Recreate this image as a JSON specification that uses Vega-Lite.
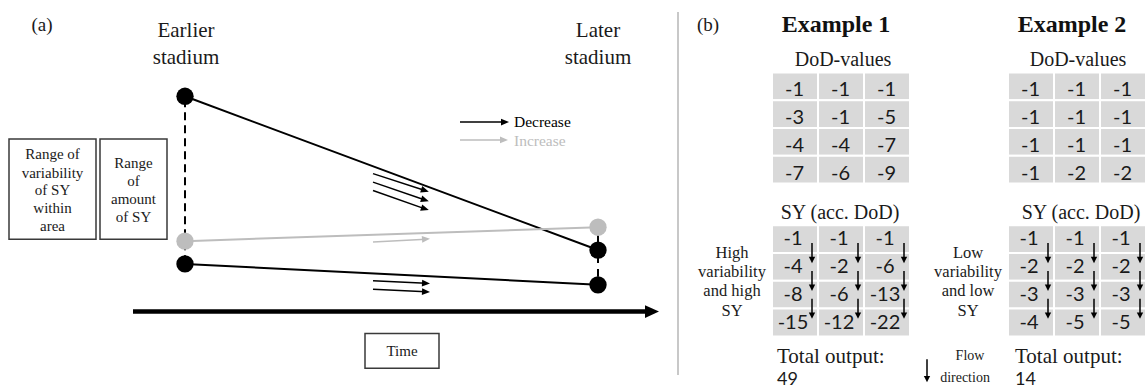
{
  "$schema": "https://vega.github.io/schema/vega-lite/v6.json",
  "width": 1147,
  "height": 389,
  "autosize": {"type": "fit", "contains": "padding"},
  "padding": 0,
  "background": "white",
  "config": {"view": {"stroke": null}},
  "encoding": {
    "x": {"field": "x", "type": "quantitative", "scale": {"domain": [0, 1147], "nice": false, "zero": false}, "axis": null},
    "y": {"field": "y", "type": "quantitative", "scale": {"domain": [0, 389], "nice": false, "zero": false, "reverse": true}, "axis": null}
  },
  "layer": [
    {
      "data": {"values": [{"x": 678, "y": 12, "x2": 678, "y2": 378}]},
      "mark": {"type": "rule", "color": "#c8c8c8", "strokeWidth": 2},
      "encoding": {"x2": {"field": "x2"}, "y2": {"field": "y2"}}
    },
    {
      "data": {"values": [
        {"x": 9, "x2": 96, "y": 140, "y2": 241},
        {"x": 100, "x2": 167, "y": 140, "y2": 241},
        {"x": 365, "x2": 439, "y": 336, "y2": 371}
      ]},
      "mark": {"type": "rect", "fill": null, "stroke": "#3a3a3a", "strokeWidth": 1.5},
      "encoding": {"x2": {"field": "x2"}, "y2": {"field": "y2"}}
    },
    {
      "data": {"values": [{"x": 185, "y": 100, "x2": 185, "y2": 266}]},
      "mark": {"type": "rule", "color": "#000000", "strokeWidth": 2, "strokeDash": [8, 5]},
      "encoding": {"x2": {"field": "x2"}, "y2": {"field": "y2"}}
    },
    {
      "data": {"values": [
        {"x": 598, "y": 236, "x2": 598, "y2": 245},
        {"x": 598, "y": 259, "x2": 598, "y2": 265},
        {"x": 598, "y": 271, "x2": 598, "y2": 279}
      ]},
      "mark": {"type": "rule", "color": "#000000", "strokeWidth": 2},
      "encoding": {"x2": {"field": "x2"}, "y2": {"field": "y2"}}
    },
    {
      "data": {"values": [
        {"x": 185, "y": 97, "x2": 598, "y2": 252, "trend": "decrease"},
        {"x": 185, "y": 243, "x2": 598, "y2": 229, "trend": "increase"},
        {"x": 185, "y": 266, "x2": 598, "y2": 287, "trend": "decrease"}
      ]},
      "mark": {"type": "rule", "strokeWidth": 2},
      "encoding": {
        "x2": {"field": "x2"}, "y2": {"field": "y2"},
        "color": {"field": "trend", "type": "nominal", "scale": {"domain": ["decrease", "increase"], "range": ["#000000", "#bdbdbd"]}, "legend": null}
      }
    },
    {
      "data": {"values": [
        {"x": 185, "y": 97, "trend": "decrease"},
        {"x": 185, "y": 243, "trend": "increase"},
        {"x": 185, "y": 266, "trend": "decrease"},
        {"x": 598, "y": 229, "trend": "increase"},
        {"x": 598, "y": 252, "trend": "decrease"},
        {"x": 598, "y": 287, "trend": "decrease"}
      ]},
      "mark": {"type": "point", "filled": true, "opacity": 1, "size": 300, "shape": "circle"},
      "encoding": {
        "color": {"field": "trend", "type": "nominal", "scale": {"domain": ["decrease", "increase"], "range": ["#000000", "#bdbdbd"]}, "legend": null}
      }
    },
    {
      "data": {"values": [{"x": 133, "y": 314, "x2": 652, "y2": 314}]},
      "layer": [
        {"mark": {"type": "rule", "color": "#000000", "strokeWidth": 4.5}, "encoding": {"x2": {"field": "x2"}, "y2": {"field": "y2"}}},
        {"mark": {"type": "point", "filled": true, "opacity": 1, "color": "#000000", "size": 196, "shape": "M -1 -0.9 L 1 0 L -1 0.9 Z"},
         "encoding": {
           "x": {"field": "x2", "type": "quantitative", "scale": {"domain": [0, 1147], "nice": false, "zero": false}, "axis": null},
           "y": {"field": "y2", "type": "quantitative", "scale": {"domain": [0, 389], "nice": false, "zero": false, "reverse": true}, "axis": null}
         }}
      ]
    },
    {
      "data": {"values": [
        {"x": 373, "y": 175, "x2": 425, "y2": 192},
        {"x": 373, "y": 183.5, "x2": 425, "y2": 201.5},
        {"x": 373, "y": 192, "x2": 425, "y2": 210.5}
      ]},
      "layer": [
        {"mark": {"type": "rule", "color": "#000000", "strokeWidth": 1.5}, "encoding": {"x2": {"field": "x2"}, "y2": {"field": "y2"}}},
        {"mark": {"type": "point", "filled": true, "opacity": 1, "color": "#000000", "size": 64, "angle": 18, "shape": "M -1 -0.85 L 1 0 L -1 0.85 Z"},
         "encoding": {
           "x": {"field": "x2", "type": "quantitative", "scale": {"domain": [0, 1147], "nice": false, "zero": false}, "axis": null},
           "y": {"field": "y2", "type": "quantitative", "scale": {"domain": [0, 389], "nice": false, "zero": false, "reverse": true}, "axis": null}
         }}
      ]
    },
    {
      "data": {"values": [{"x": 373, "y": 244, "x2": 426, "y2": 241}]},
      "layer": [
        {"mark": {"type": "rule", "color": "#bdbdbd", "strokeWidth": 1.5}, "encoding": {"x2": {"field": "x2"}, "y2": {"field": "y2"}}},
        {"mark": {"type": "point", "filled": true, "opacity": 1, "color": "#bdbdbd", "size": 64, "angle": -4, "shape": "M -1 -0.85 L 1 0 L -1 0.85 Z"},
         "encoding": {
           "x": {"field": "x2", "type": "quantitative", "scale": {"domain": [0, 1147], "nice": false, "zero": false}, "axis": null},
           "y": {"field": "y2", "type": "quantitative", "scale": {"domain": [0, 389], "nice": false, "zero": false, "reverse": true}, "axis": null}
         }}
      ]
    },
    {
      "data": {"values": [
        {"x": 373, "y": 283, "x2": 426, "y2": 285.5},
        {"x": 373, "y": 291.5, "x2": 426, "y2": 294}
      ]},
      "layer": [
        {"mark": {"type": "rule", "color": "#000000", "strokeWidth": 1.5}, "encoding": {"x2": {"field": "x2"}, "y2": {"field": "y2"}}},
        {"mark": {"type": "point", "filled": true, "opacity": 1, "color": "#000000", "size": 64, "angle": 3, "shape": "M -1 -0.85 L 1 0 L -1 0.85 Z"},
         "encoding": {
           "x": {"field": "x2", "type": "quantitative", "scale": {"domain": [0, 1147], "nice": false, "zero": false}, "axis": null},
           "y": {"field": "y2", "type": "quantitative", "scale": {"domain": [0, 389], "nice": false, "zero": false, "reverse": true}, "axis": null}
         }}
      ]
    },
    {
      "data": {"values": [
        {"x": 460, "y": 123, "x2": 505, "y2": 123, "trend": "decrease"},
        {"x": 460, "y": 141, "x2": 504, "y2": 141, "trend": "increase"}
      ]},
      "encoding": {
        "color": {"field": "trend", "type": "nominal", "scale": {"domain": ["decrease", "increase"], "range": ["#000000", "#bdbdbd"]}, "legend": null}
      },
      "layer": [
        {"mark": {"type": "rule", "strokeWidth": 1.5}, "encoding": {"x2": {"field": "x2"}, "y2": {"field": "y2"}}},
        {"mark": {"type": "point", "filled": true, "opacity": 1, "size": 64, "shape": "M -1 -0.85 L 1 0 L -1 0.85 Z"},
         "encoding": {
           "x": {"field": "x2", "type": "quantitative", "scale": {"domain": [0, 1147], "nice": false, "zero": false}, "axis": null},
           "y": {"field": "y2", "type": "quantitative", "scale": {"domain": [0, 389], "nice": false, "zero": false, "reverse": true}, "axis": null}
         }}
      ]
    },
    {
      "data": {"values": [
        {"grid": "DoD 1", "v": "-1", "x": 772, "x2": 818, "y": 73, "y2": 101},
        {"grid": "DoD 1", "v": "-1", "x": 818, "x2": 864, "y": 73, "y2": 101},
        {"grid": "DoD 1", "v": "-1", "x": 864, "x2": 910, "y": 73, "y2": 101},
        {"grid": "DoD 1", "v": "-3", "x": 772, "x2": 818, "y": 101, "y2": 129},
        {"grid": "DoD 1", "v": "-1", "x": 818, "x2": 864, "y": 101, "y2": 129},
        {"grid": "DoD 1", "v": "-5", "x": 864, "x2": 910, "y": 101, "y2": 129},
        {"grid": "DoD 1", "v": "-4", "x": 772, "x2": 818, "y": 129, "y2": 157},
        {"grid": "DoD 1", "v": "-4", "x": 818, "x2": 864, "y": 129, "y2": 157},
        {"grid": "DoD 1", "v": "-7", "x": 864, "x2": 910, "y": 129, "y2": 157},
        {"grid": "DoD 1", "v": "-7", "x": 772, "x2": 818, "y": 157, "y2": 185},
        {"grid": "DoD 1", "v": "-6", "x": 818, "x2": 864, "y": 157, "y2": 185},
        {"grid": "DoD 1", "v": "-9", "x": 864, "x2": 910, "y": 157, "y2": 185},
        {"grid": "DoD 2", "v": "-1", "x": 1008, "x2": 1054, "y": 73, "y2": 101},
        {"grid": "DoD 2", "v": "-1", "x": 1054, "x2": 1100, "y": 73, "y2": 101},
        {"grid": "DoD 2", "v": "-1", "x": 1100, "x2": 1146, "y": 73, "y2": 101},
        {"grid": "DoD 2", "v": "-1", "x": 1008, "x2": 1054, "y": 101, "y2": 129},
        {"grid": "DoD 2", "v": "-1", "x": 1054, "x2": 1100, "y": 101, "y2": 129},
        {"grid": "DoD 2", "v": "-1", "x": 1100, "x2": 1146, "y": 101, "y2": 129},
        {"grid": "DoD 2", "v": "-1", "x": 1008, "x2": 1054, "y": 129, "y2": 157},
        {"grid": "DoD 2", "v": "-1", "x": 1054, "x2": 1100, "y": 129, "y2": 157},
        {"grid": "DoD 2", "v": "-1", "x": 1100, "x2": 1146, "y": 129, "y2": 157},
        {"grid": "DoD 2", "v": "-1", "x": 1008, "x2": 1054, "y": 157, "y2": 185},
        {"grid": "DoD 2", "v": "-2", "x": 1054, "x2": 1100, "y": 157, "y2": 185},
        {"grid": "DoD 2", "v": "-2", "x": 1100, "x2": 1146, "y": 157, "y2": 185}
      ]},
      "layer": [
        {"mark": {"type": "rect", "fill": "#d9d9d9", "stroke": "#ffffff", "strokeWidth": 2}, "encoding": {"x2": {"field": "x2"}, "y2": {"field": "y2"}}},
        {"mark": {"type": "text", "font": "Lato", "fontSize": 20, "color": "#1a1a1a", "align": "center", "baseline": "alphabetic", "dx": 22.5, "dy": 24}, "encoding": {"text": {"field": "v"}}}
      ]
    },
    {
      "data": {"values": [
        {"grid": "SY 1", "v": "-1", "x": 772, "x2": 818, "y": 227, "y2": 255},
        {"grid": "SY 1", "v": "-1", "x": 818, "x2": 864, "y": 227, "y2": 255},
        {"grid": "SY 1", "v": "-1", "x": 864, "x2": 910, "y": 227, "y2": 255},
        {"grid": "SY 1", "v": "-4", "x": 772, "x2": 818, "y": 255, "y2": 283},
        {"grid": "SY 1", "v": "-2", "x": 818, "x2": 864, "y": 255, "y2": 283},
        {"grid": "SY 1", "v": "-6", "x": 864, "x2": 910, "y": 255, "y2": 283},
        {"grid": "SY 1", "v": "-8", "x": 772, "x2": 818, "y": 283, "y2": 311},
        {"grid": "SY 1", "v": "-6", "x": 818, "x2": 864, "y": 283, "y2": 311},
        {"grid": "SY 1", "v": "-13", "x": 864, "x2": 910, "y": 283, "y2": 311},
        {"grid": "SY 1", "v": "-15", "x": 772, "x2": 818, "y": 311, "y2": 339},
        {"grid": "SY 1", "v": "-12", "x": 818, "x2": 864, "y": 311, "y2": 339},
        {"grid": "SY 1", "v": "-22", "x": 864, "x2": 910, "y": 311, "y2": 339},
        {"grid": "SY 2", "v": "-1", "x": 1008, "x2": 1054, "y": 227, "y2": 255},
        {"grid": "SY 2", "v": "-1", "x": 1054, "x2": 1100, "y": 227, "y2": 255},
        {"grid": "SY 2", "v": "-1", "x": 1100, "x2": 1146, "y": 227, "y2": 255},
        {"grid": "SY 2", "v": "-2", "x": 1008, "x2": 1054, "y": 255, "y2": 283},
        {"grid": "SY 2", "v": "-2", "x": 1054, "x2": 1100, "y": 255, "y2": 283},
        {"grid": "SY 2", "v": "-2", "x": 1100, "x2": 1146, "y": 255, "y2": 283},
        {"grid": "SY 2", "v": "-3", "x": 1008, "x2": 1054, "y": 283, "y2": 311},
        {"grid": "SY 2", "v": "-3", "x": 1054, "x2": 1100, "y": 283, "y2": 311},
        {"grid": "SY 2", "v": "-3", "x": 1100, "x2": 1146, "y": 283, "y2": 311},
        {"grid": "SY 2", "v": "-4", "x": 1008, "x2": 1054, "y": 311, "y2": 339},
        {"grid": "SY 2", "v": "-5", "x": 1054, "x2": 1100, "y": 311, "y2": 339},
        {"grid": "SY 2", "v": "-5", "x": 1100, "x2": 1146, "y": 311, "y2": 339}
      ]},
      "layer": [
        {"mark": {"type": "rect", "fill": "#d9d9d9", "stroke": "#ffffff", "strokeWidth": 2}, "encoding": {"x2": {"field": "x2"}, "y2": {"field": "y2"}}},
        {"mark": {"type": "text", "font": "Lato", "fontSize": 20, "color": "#1a1a1a", "align": "center", "baseline": "alphabetic", "dx": 21, "dy": 20}, "encoding": {"text": {"field": "v"}}}
      ]
    },
    {
      "data": {"values": [
        {"x": 812, "y": 245, "x2": 812, "y2": 262}, {"x": 812, "y": 273, "x2": 812, "y2": 290}, {"x": 812, "y": 301, "x2": 812, "y2": 318},
        {"x": 858, "y": 245, "x2": 858, "y2": 262}, {"x": 858, "y": 273, "x2": 858, "y2": 290}, {"x": 858, "y": 301, "x2": 858, "y2": 318},
        {"x": 904, "y": 245, "x2": 904, "y2": 262}, {"x": 904, "y": 273, "x2": 904, "y2": 290}, {"x": 904, "y": 301, "x2": 904, "y2": 318},
        {"x": 1048, "y": 245, "x2": 1048, "y2": 262}, {"x": 1048, "y": 273, "x2": 1048, "y2": 290}, {"x": 1048, "y": 301, "x2": 1048, "y2": 318},
        {"x": 1094, "y": 245, "x2": 1094, "y2": 262}, {"x": 1094, "y": 273, "x2": 1094, "y2": 290}, {"x": 1094, "y": 301, "x2": 1094, "y2": 318},
        {"x": 1140, "y": 245, "x2": 1140, "y2": 262}, {"x": 1140, "y": 273, "x2": 1140, "y2": 290}, {"x": 1140, "y": 301, "x2": 1140, "y2": 318},
        {"x": 927, "y": 362, "x2": 927, "y2": 382}
      ]},
      "layer": [
        {"mark": {"type": "rule", "color": "#000000", "strokeWidth": 1.5}, "encoding": {"x2": {"field": "x2"}, "y2": {"field": "y2"}}},
        {"mark": {"type": "point", "filled": true, "opacity": 1, "color": "#000000", "size": 40, "angle": 90, "shape": "M -1 -1 L 1 0 L -1 1 Z"},
         "encoding": {
           "x": {"field": "x2", "type": "quantitative", "scale": {"domain": [0, 1147], "nice": false, "zero": false}, "axis": null},
           "y": {"field": "y2", "type": "quantitative", "scale": {"domain": [0, 389], "nice": false, "zero": false, "reverse": true}, "axis": null}
         }}
      ]
    },
    {
      "data": {"values": [
        {"x": 186, "y": 37, "t": "Earlier"}, {"x": 186, "y": 64, "t": "stadium"},
        {"x": 598, "y": 37, "t": "Later"}, {"x": 598, "y": 64, "t": "stadium"}
      ]},
      "mark": {"type": "text", "font": "Liberation Serif", "fontSize": 21, "color": "#1a1a1a", "align": "center", "baseline": "alphabetic"},
      "encoding": {"text": {"field": "t"}}
    },
    {
      "data": {"values": [{"x": 42, "y": 31, "t": "(a)"}, {"x": 708, "y": 31, "t": "(b)"}]},
      "mark": {"type": "text", "font": "Liberation Serif", "fontSize": 19, "color": "#1a1a1a", "align": "center", "baseline": "alphabetic"},
      "encoding": {"text": {"field": "t"}}
    },
    {
      "data": {"values": [
        {"x": 52.5, "y": 160, "t": "Range of"}, {"x": 52.5, "y": 179, "t": "variability"}, {"x": 52.5, "y": 197, "t": "of SY"},
        {"x": 52.5, "y": 215, "t": "within"}, {"x": 52.5, "y": 233, "t": "area"},
        {"x": 133.5, "y": 169, "t": "Range"}, {"x": 133.5, "y": 187, "t": "of"}, {"x": 133.5, "y": 206, "t": "amount"}, {"x": 133.5, "y": 224, "t": "of SY"},
        {"x": 402, "y": 359, "t": "Time"}
      ]},
      "mark": {"type": "text", "font": "Liberation Serif", "fontSize": 15, "color": "#1a1a1a", "align": "center", "baseline": "alphabetic"},
      "encoding": {"text": {"field": "t"}}
    },
    {
      "data": {"values": [
        {"x": 514, "y": 128, "t": "Decrease", "trend": "decrease"},
        {"x": 514, "y": 147, "t": "Increase", "trend": "increase"}
      ]},
      "mark": {"type": "text", "font": "Liberation Serif", "fontSize": 15.5, "align": "left", "baseline": "alphabetic"},
      "encoding": {
        "text": {"field": "t"},
        "color": {"field": "trend", "type": "nominal", "scale": {"domain": ["decrease", "increase"], "range": ["#000000", "#bdbdbd"]}, "legend": null}
      }
    },
    {
      "data": {"values": [{"x": 836, "y": 32, "t": "Example 1"}, {"x": 1072, "y": 32, "t": "Example 2"}]},
      "mark": {"type": "text", "font": "Liberation Serif", "fontSize": 24, "fontWeight": "bold", "color": "#111111", "align": "center", "baseline": "alphabetic"},
      "encoding": {"text": {"field": "t"}}
    },
    {
      "data": {"values": [
        {"x": 843, "y": 67, "t": "DoD-values"}, {"x": 1078, "y": 67, "t": "DoD-values"},
        {"x": 840, "y": 221, "t": "SY (acc. DoD)"}, {"x": 1081, "y": 221, "t": "SY (acc. DoD)"}
      ]},
      "mark": {"type": "text", "font": "Liberation Serif", "fontSize": 20, "color": "#1a1a1a", "align": "center", "baseline": "alphabetic"},
      "encoding": {"text": {"field": "t"}}
    },
    {
      "data": {"values": [
        {"x": 732, "y": 260, "t": "High"}, {"x": 732, "y": 279, "t": "variability"}, {"x": 732, "y": 298, "t": "and high"}, {"x": 732, "y": 318, "t": "SY"},
        {"x": 968, "y": 260, "t": "Low"}, {"x": 968, "y": 279, "t": "variability"}, {"x": 968, "y": 298, "t": "and low"}, {"x": 968, "y": 318, "t": "SY"}
      ]},
      "mark": {"type": "text", "font": "Liberation Serif", "fontSize": 16.5, "color": "#1a1a1a", "align": "center", "baseline": "alphabetic"},
      "encoding": {"text": {"field": "t"}}
    },
    {
      "data": {"values": [{"x": 777, "y": 366, "t": "Total output:"}, {"x": 1015, "y": 366, "t": "Total output:"}]},
      "mark": {"type": "text", "font": "Liberation Serif", "fontSize": 21, "color": "#1a1a1a", "align": "left", "baseline": "alphabetic"},
      "encoding": {"text": {"field": "t"}}
    },
    {
      "data": {"values": [{"x": 777, "y": 388, "t": "49"}, {"x": 1015, "y": 388, "t": "14"}]},
      "mark": {"type": "text", "font": "Lato", "fontSize": 18, "color": "#1a1a1a", "align": "left", "baseline": "alphabetic"},
      "encoding": {"text": {"field": "t"}}
    },
    {
      "data": {"values": [{"x": 970, "y": 363, "t": "Flow"}, {"x": 965, "y": 385, "t": "direction"}]},
      "mark": {"type": "text", "font": "Liberation Serif", "fontSize": 14, "color": "#1a1a1a", "align": "center", "baseline": "alphabetic"},
      "encoding": {"text": {"field": "t"}}
    }
  ]
}
